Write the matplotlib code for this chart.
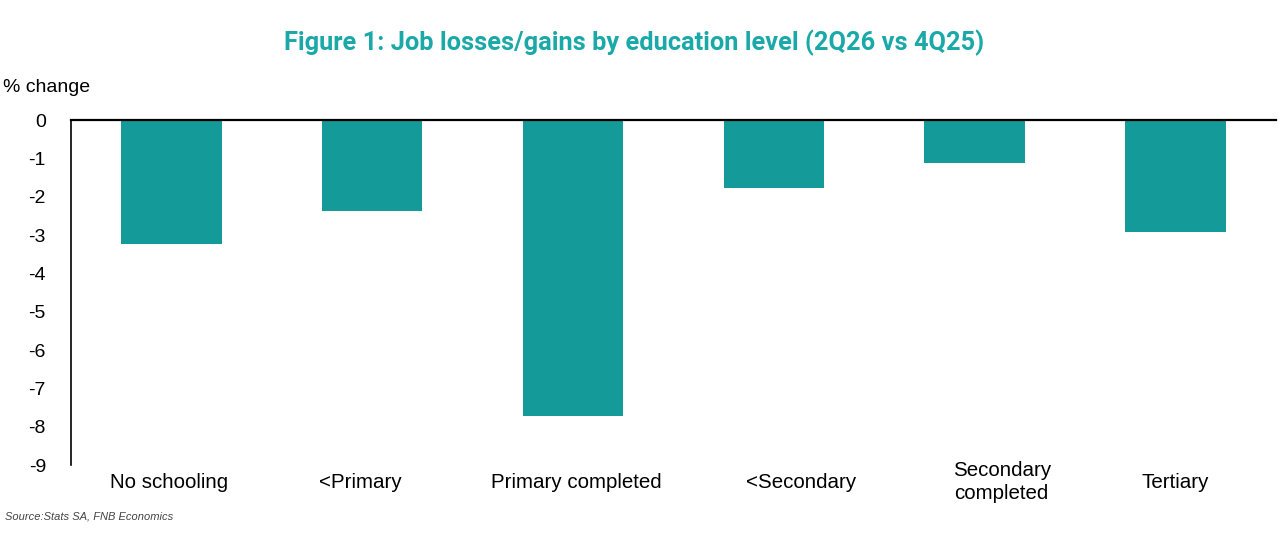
import matplotlib.pyplot as plt
import matplotlib.transforms as mtransforms

# data
categories = ["No schooling", "<Primary", "Primary completed",
              "<Secondary", "Secondary\ncompleted", "Tertiary"]
pct_change = [-3.22, -2.37, -7.71, -1.77, -1.12, -2.91]
y_ticks = [0, -1, -2, -3, -4, -5, -6, -7, -8, -9]

# the source chart's labels sit a little off the bar centres (pixels)
label_shift_px = [-2, -12, 3, 27, 27, 0]

teal = "#159a9a"

plt.rcParams['font.family'] = ['Liberation Sans', 'DejaVu Sans']

fig = plt.figure(figsize=(12.81, 5.44), dpi=100)
ax = fig.add_axes([0.0554, 0.1452, 0.9406, 0.634])

x = list(range(len(categories)))
ax.bar(x, pct_change, width=0.5, color=teal)

ax.set_ylim(-9, 0)
ax.set_xlim(-0.5, len(categories) - 0.5)
ax.set_yticks(y_ticks)
ax.set_yticklabels([str(v) for v in y_ticks])
ax.set_xticks([])

# category labels under the plot, centred 17 px below the axes
base = mtransforms.blended_transform_factory(ax.transData, ax.transAxes)
for xi, cat, dx in zip(x, categories, label_shift_px):
    offset = mtransforms.ScaledTranslation(dx / 100, -17 / 100, fig.dpi_scale_trans)
    ax.text(xi, 0, cat, transform=base + offset, ha='center', va='center',
            fontsize=14.8, linespacing=1.25, clip_on=False)

ax.tick_params(axis='y', length=0, pad=18, labelsize=14)

for side in ['right', 'bottom']:
    ax.spines[side].set_visible(False)
ax.spines['top'].set_linewidth(1.6)
ax.spines['left'].set_linewidth(1.2)

fig.text(0.002, 0.84, "% change", fontsize=14, ha='left', va='center')
fig.text(0.495, 0.922, "Figure 1: Job losses/gains by education level (2Q26 vs 4Q25)",
         fontsize=18.3, fontweight='bold', color="#1aa8a8", ha='center', va='center',
         family=['Roboto', 'DejaVu Sans'])
fig.text(0.004, 0.05, "Source:Stats SA, FNB Economics", fontsize=8,
         style='italic', color='#444444', ha='left', va='center')

fig.savefig("out.png", dpi=100)
